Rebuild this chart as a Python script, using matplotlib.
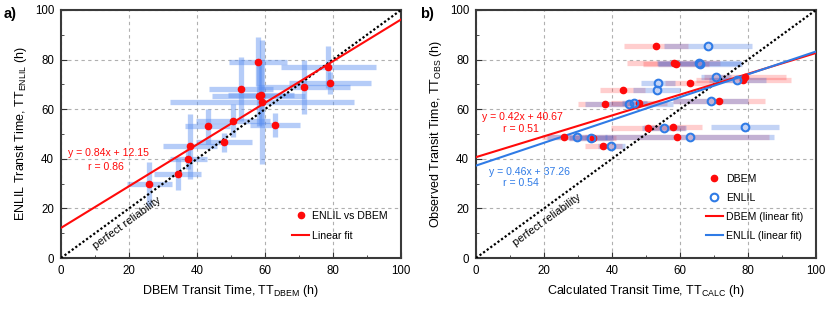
import numpy as np
import matplotlib as mpl
mpl.use('Agg')
import matplotlib.pyplot as plt

plt.rcParams['font.family'] = ['Liberation Sans Narrow', 'Liberation Sans', 'DejaVu Sans']

# transit times (h) for each event: DBEM, ENLIL and observed
tt_dbem = [52.9, 58.1, 58.8, 63.0, 43.2, 78.6, 79.2, 37.9,
           47.9, 71.5, 50.6, 57.9, 26.0, 34.4, 59.1, 37.5]
tt_enlil = [68.2, 65.5, 65.9, 53.6, 53.1, 76.9, 70.7, 45.0,
            46.6, 69.0, 55.3, 79.2, 29.8, 33.8, 62.8, 39.8]
tt_obs = [85.6, 78.5, 78.2, 70.7, 67.7, 71.9, 72.8, 62.1,
          62.6, 63.2, 52.5, 52.7, 48.8, 48.2, 48.9, 45.2]
# uncertainties (h)
err_dbem = [9.4, 13.8, 9.7, 7.4, 6.6, 14.0, 12.0, 8.0,
            8.2, 13.6, 10.8, 8.5, 6.6, 6.9, 27.0, 5.5]
err_enlil = [12.9, 12.3, 12.3, 5.0, 7.0, 8.5, 4.4, 13.0,
             3.7, 11.0, 6.6, 10.0, 8.8, 6.4, 25.0, 4.0]

# linear fits as printed on the figure: (slope, intercept, r)
fit_left = (0.84, 12.15, 0.86)
fit_dbem = (0.42, 40.67, 0.51)
fit_enlil = (0.46, 37.26, 0.54)

red = '#ff0a0a'
blue = '#2f7be6'
xs = np.array([0, 100])
fs_small = 7.6

fig = plt.figure(figsize=(8.3, 3.12), dpi=100)
ax1 = fig.add_axes([0.0735, 0.173, 0.4096, 0.795])
ax2 = fig.add_axes([0.5735, 0.173, 0.4096, 0.795])


def style(ax):
    ax.set_xlim(0, 100)
    ax.set_ylim(0, 100)
    ax.set_xticks(np.arange(0, 101, 20))
    ax.set_yticks(np.arange(0, 101, 20))
    ax.set_xticks(np.arange(10, 100, 20), minor=True)
    ax.set_yticks(np.arange(10, 100, 20), minor=True)
    ax.grid(True, which='major', ls=(0, (3, 3)), color='#b0b0b0', lw=0.8)
    ax.set_axisbelow(True)
    ax.tick_params(which='both', direction='in', labelsize=8.3, color='#333333')
    ax.tick_params(which='major', length=4, pad=5)
    ax.tick_params(which='minor', length=2.5)
    for s in ax.spines.values():
        s.set_color('#3a3a3a')
        s.set_linewidth(1.5)
    ax.plot(xs, xs, ls=(0, (1, 1)), color='black', lw=1.6, zorder=3)


# ---- panel a
style(ax1)
ax1.errorbar(tt_dbem, tt_enlil, xerr=err_dbem, yerr=err_enlil, fmt='none',
             ecolor='#5b8ff0', alpha=0.45, elinewidth=3.8, capsize=0, zorder=2)
ax1.plot(tt_dbem, tt_enlil, 'o', color=red, ms=4.5, zorder=5, label='ENLIL vs DBEM')
ax1.plot(xs, fit_left[0] * xs + fit_left[1], color=red, lw=1.5, zorder=4, label='Linear fit')
ax1.text(2.0, 42.3, 'y = %.2fx + %.2f' % fit_left[:2], color=red, fontsize=fs_small, ha='left', va='center')
ax1.text(7.9, 36.7, 'r = %.2f' % fit_left[2], color=red, fontsize=fs_small, ha='left', va='center')
ax1.text(19.3, 14.0, 'perfect reliability', rotation=36, fontsize=8,
         ha='center', va='center', rotation_mode='anchor')
ax1.set_xlabel(r'DBEM Transit Time, TT$_{\mathregular{DBEM}}$ (h)', fontsize=9)
ax1.set_ylabel(r'ENLIL Transit Time, TT$_{\mathregular{ENLIL}}$ (h)', fontsize=9)
ax1.legend(loc='lower right', frameon=False, fontsize=fs_small, handlelength=1.6,
           handletextpad=0.3, labelspacing=1.0, bbox_to_anchor=(0.99, 0.03))

# ---- panel b
style(ax2)
ax2.errorbar(tt_dbem, tt_obs, xerr=err_dbem, fmt='none', ecolor=red,
             alpha=0.2, elinewidth=3.8, capsize=0, zorder=2)
ax2.errorbar(tt_enlil, tt_obs, xerr=err_enlil, fmt='none', ecolor='#3b6fe0',
             alpha=0.3, elinewidth=3.8, capsize=0, zorder=2)
ax2.plot(tt_dbem, tt_obs, 'o', color=red, ms=4.5, zorder=5, label='DBEM')
ax2.plot(tt_enlil, tt_obs, 'o', mfc='none', mec=blue, mew=1.5, ms=5.5, zorder=5, label='ENLIL')
ax2.plot(xs, fit_dbem[0] * xs + fit_dbem[1], color=red, lw=1.5, zorder=4, label='DBEM (linear fit)')
ax2.plot(xs, fit_enlil[0] * xs + fit_enlil[1], color=blue, lw=1.5, zorder=4, label='ENLIL (linear fit)')
ax2.text(1.7, 56.9, 'y = %.2fx + %.2f' % fit_dbem[:2], color=red, fontsize=fs_small, ha='left', va='center')
ax2.text(8.0, 52.0, 'r = %.2f' % fit_dbem[2], color=red, fontsize=fs_small, ha='left', va='center')
ax2.text(3.8, 34.8, 'y = %.2fx + %.2f' % fit_enlil[:2], color=blue, fontsize=fs_small, ha='left', va='center')
ax2.text(8.0, 30.2, 'r = %.2f' % fit_enlil[2], color=blue, fontsize=fs_small, ha='left', va='center')
ax2.text(20.8, 15.3, 'perfect reliability', rotation=36, fontsize=8,
         ha='center', va='center', rotation_mode='anchor')
ax2.set_xlabel(r'Calculated Transit Time, TT$_{\mathregular{CALC}}$ (h)', fontsize=9)
ax2.set_ylabel(r'Observed Transit Time, TT$_{\mathregular{OBS}}$ (h)', fontsize=9)
ax2.legend(loc='lower right', frameon=False, fontsize=fs_small, handlelength=1.6,
           handletextpad=0.3, labelspacing=0.85, bbox_to_anchor=(0.99, 0.03))

fig.text(0.004, 0.955, 'a)', fontsize=10.5, fontweight='bold', va='center')
fig.text(0.506, 0.955, 'b)', fontsize=10.5, fontweight='bold', va='center')

fig.savefig('out.png', dpi=100)
